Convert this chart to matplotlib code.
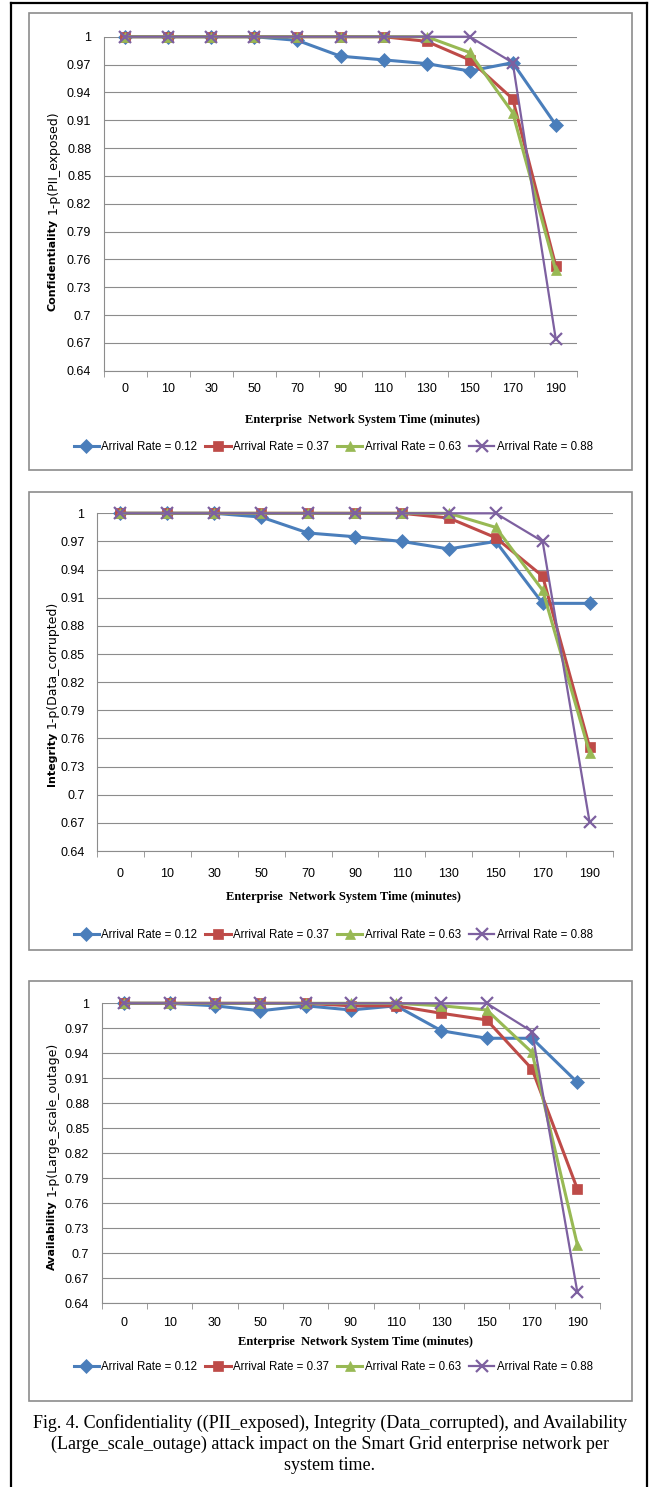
import numpy as np
import matplotlib
matplotlib.use("Agg")
import matplotlib.pyplot as plt
from matplotlib.lines import Line2D
from matplotlib.patches import Rectangle

W, H = 649, 1487

# ---- data ----
times = ['0', '10', '30', '50', '70', '90', '110', '130', '150', '170', '190']
series_names = ['Arrival Rate = 0.12', 'Arrival Rate = 0.37',
                'Arrival Rate = 0.63', 'Arrival Rate = 0.88']

conf_012 = [1, 1, 1, 1, 0.996, 0.979, 0.975, 0.971, 0.963, 0.972, 0.905]
conf_037 = [1, 1, 1, 1, 1, 1, 1, 0.995, 0.975, 0.933, 0.753]
conf_063 = [1, 1, 1, 1, 1, 1, 1, 1, 0.983, 0.918, 0.748]
conf_088 = [1, 1, 1, 1, 1, 1, 1, 1, 1, 0.972, 0.674]

int_012 = [1, 1, 1, 0.996, 0.979, 0.975, 0.970, 0.962, 0.970, 0.904, 0.904]
int_037 = [1, 1, 1, 1, 1, 1, 1, 0.995, 0.974, 0.933, 0.751]
int_063 = [1, 1, 1, 1, 1, 1, 1, 1, 0.985, 0.918, 0.745]
int_088 = [1, 1, 1, 1, 1, 1, 1, 1, 1, 0.970, 0.671]

avail_012 = [1, 1, 0.997, 0.991, 0.997, 0.992, 0.997, 0.967, 0.958, 0.958, 0.905]
avail_037 = [1, 1, 1, 1, 1, 0.997, 0.997, 0.988, 0.980, 0.921, 0.777]
avail_063 = [1, 1, 1, 1, 1, 1, 1, 0.997, 0.992, 0.941, 0.710]
avail_088 = [1, 1, 1, 1, 1, 1, 1, 1, 1, 0.966, 0.653]

y_ticks = np.round(np.arange(0.64, 1.0001, 0.03), 2)

# ---- styles ----
colors = ['#4a7ebb', '#be4b48', '#98b954', '#7d60a0']
markers = ['D', 's', '^', 'x']
msizes = [7, 7.5, 7.5, 8.5]
lwidths = [2.2, 2.2, 2.2, 1.6]
sans = 'Liberation Sans'
grid_c = '#8c8c8c'


def fx(x):
    return x / W


def fy(y):
    return 1 - y / H


fig = plt.figure(figsize=(W / 100, H / 100), dpi=100)
fig.patch.set_facecolor('white')

# outer black frame
for xs, ys in [([11, 11], [3, H]), ([11, 647], [3, 3]), ([647, 647], [3, H])]:
    fig.add_artist(Line2D([fx(v) for v in xs], [fy(v) for v in ys],
                          color='black', lw=1.6))

panels = [
    dict(data=[conf_012, conf_037, conf_063, conf_088],
         box=(28.7, 12.7, 631.7, 470), ax=(103.7, 36.7, 577.3, 370.7),
         bold='Confidentiality', reg='1-p(PII_exposed)', ylab_x=53, ylab_b=216.5,
         xpad=9, xlab=(362, 420), leg=447),
    dict(data=[int_012, int_037, int_063, int_088],
         box=(28.7, 492, 631.7, 950), ax=(97, 513.3, 613, 851),
         bold='Integrity', reg='1-p(Data_corrupted)', ylab_x=51.7, ylab_b=730,
         xpad=12, xlab=(343, 897), leg=935),
    dict(data=[avail_012, avail_037, avail_063, avail_088],
         box=(28.7, 981, 631.7, 1400.7), ax=(101.7, 1003.3, 600, 1303),
         bold='Availability', reg='1-p(Large_scale_outage)', ylab_x=51.7, ylab_b=1198.5,
         xpad=10, xlab=(355, 1342), leg=1367),
]

x = np.arange(len(times))
for p in panels:
    bx0, by0, bx1, by1 = p['box']
    fig.add_artist(Rectangle((fx(bx0), fy(by1)), (bx1 - bx0) / W, (by1 - by0) / H,
                             fill=False, edgecolor='#8c8c8c', lw=1.2))

    l, t, r, b = p['ax']
    ax = fig.add_axes([fx(l), fy(b), (r - l) / W, (b - t) / H])
    handles = []
    for vals, c, m, ms, lw in zip(p['data'], colors, markers, msizes, lwidths):
        h, = ax.plot(x, vals, color=c, marker=m, markersize=ms, lw=lw,
                     markeredgewidth=1.6 if m == 'x' else 0.5,
                     markeredgecolor=c, clip_on=False, zorder=3)
        handles.append(h)

    ax.set_xlim(-0.5, len(times) - 0.5)
    ax.set_ylim(0.64, 1.0)
    ax.set_yticks(y_ticks)
    ax.set_yticklabels(['%g' % v for v in y_ticks], family=sans, fontsize=9)
    ax.set_xticks(x)
    ax.set_xticklabels(times, family=sans, fontsize=9)
    ax.set_xticks(np.arange(-0.5, len(times)), minor=True)
    ax.tick_params(axis='x', which='major', length=0, pad=p['xpad'])
    ax.tick_params(axis='x', which='minor', length=4, color=grid_c, direction='out')
    ax.tick_params(axis='y', length=0, pad=9)
    ax.grid(axis='y', color=grid_c, lw=0.8)
    ax.set_axisbelow(True)
    for s in ['top', 'right']:
        ax.spines[s].set_visible(False)
    for s in ['left', 'bottom']:
        ax.spines[s].set_color(grid_c)
        ax.spines[s].set_linewidth(0.8)

    # y label: bold part then regular part, rotated
    fig.text(fx(p['ylab_x']), fy(p['ylab_b'] + 2), p['bold'], rotation=90,
             ha='center', va='top', fontsize=8, weight='bold', family='DejaVu Sans')
    fig.text(fx(p['ylab_x']), fy(p['ylab_b'] - 2), p['reg'], rotation=90,
             ha='center', va='bottom', fontsize=9, family='DejaVu Sans')

    fig.text(fx(p['xlab'][0]), fy(p['xlab'][1]), 'Enterprise  Network System Time (minutes)',
             ha='center', va='center', fontsize=9, weight='bold', family='Liberation Serif')

    fig.legend(handles, series_names, loc='center', bbox_to_anchor=(fx(333), fy(p['leg'])),
               ncol=4, frameon=False, prop={'family': sans, 'size': 8.3},
               handlelength=2.2, handletextpad=0.2, columnspacing=0.7,
               borderpad=0, borderaxespad=0)

caption = ['Fig. 4. Confidentiality ((PII_exposed), Integrity (Data_corrupted), and Availability',
           '(Large_scale_outage) attack impact on the Smart Grid enterprise network per',
           'system time.']
for i, line in enumerate(caption):
    fig.text(fx(330), fy(1423 + 21 * i), line, ha='center', va='center',
             fontsize=13, family='Liberation Serif')

fig.savefig('out.png', dpi=100)
